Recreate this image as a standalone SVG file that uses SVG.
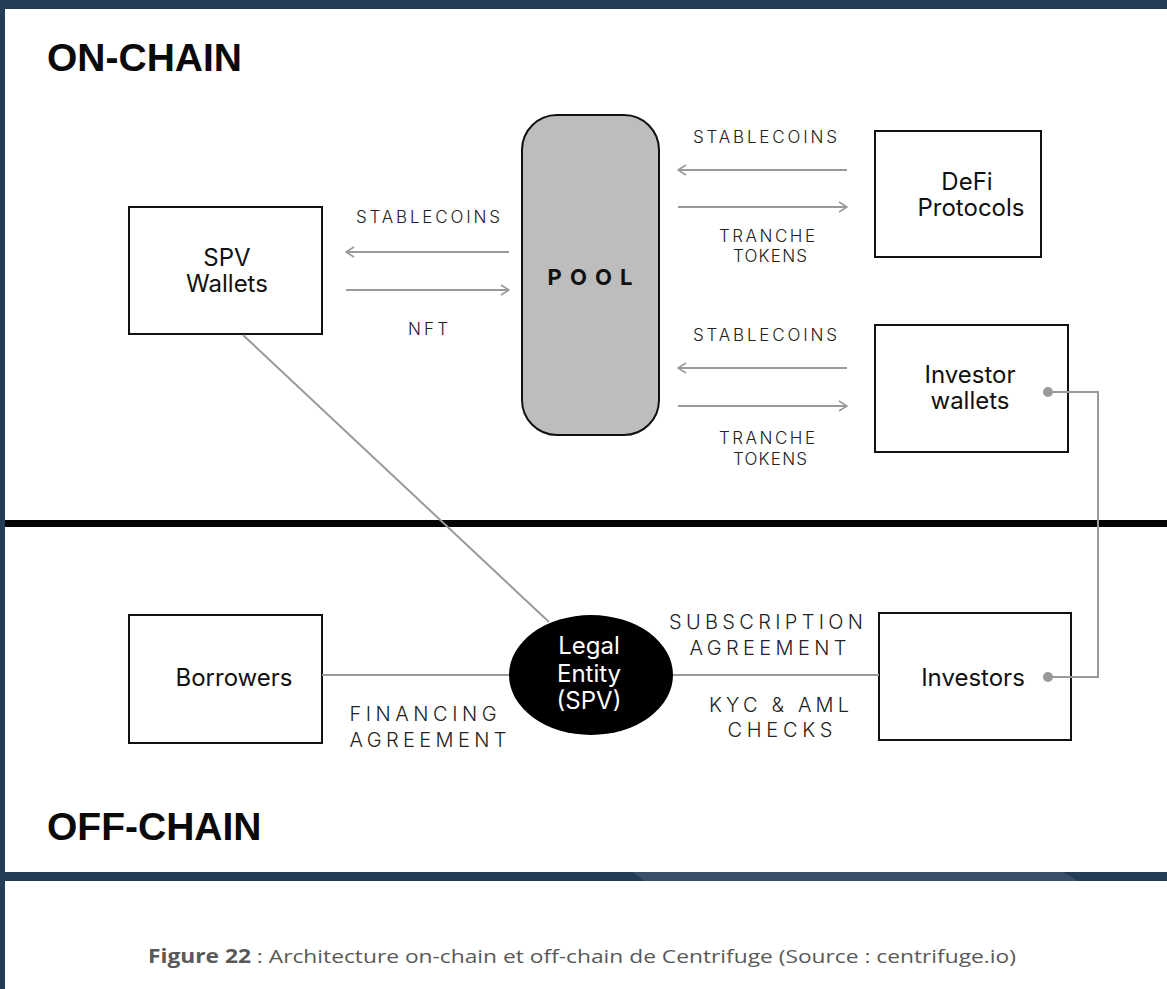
<svg xmlns="http://www.w3.org/2000/svg" width="1167" height="989" viewBox="0 0 1167 989">
<defs>
<style>
.bg{fill:#ffffff}
.band{fill:#223d55}
.box{fill:#ffffff;stroke:#111111;stroke-width:2}
.node{font-family:Inter,"Liberation Sans",sans-serif;font-size:24px;fill:#111111;text-anchor:middle}
.lbl{font-family:Inter,"Liberation Sans",sans-serif;font-weight:300;font-size:17px;fill:#222222;text-anchor:middle}
.lbl2{font-family:Inter,"Liberation Sans",sans-serif;font-weight:300;font-size:20px;fill:#222222;text-anchor:middle}
.head{font-family:"Liberation Sans",Arial,sans-serif;font-weight:bold;font-size:39px;fill:#0a0a0a}
.con{fill:none;stroke:#9a9a9a;stroke-width:2}
.arr{fill:none;stroke:#9a9a9a;stroke-width:2}
.cap{font-family:"Open Sans","Liberation Sans",sans-serif;font-size:19px;fill:#595959}
</style>
<marker id="ah" viewBox="0 0 10 12" refX="9" refY="6" markerWidth="10" markerHeight="12" markerUnits="userSpaceOnUse" orient="auto-start-reverse">
<path d="M1,1 L9,6 L1,11" fill="none" stroke="#9a9a9a" stroke-width="1.6"/>
</marker>
</defs>
<rect class="bg" x="0" y="0" width="1167" height="989"/>
<rect class="band" x="0" y="0" width="1167" height="9"/>
<rect class="band" x="0" y="0" width="5" height="989"/>
<rect class="band" x="0" y="872" width="1167" height="9"/>
<path d="M633,872 L1063,872 L1078,881 L644,881 Z" fill="#3b5068"/>
<rect x="5" y="520" width="1162" height="7" fill="#050505"/>
<text class="head" x="47" y="71">ON-CHAIN</text>
<text class="head" x="47" y="840">OFF-CHAIN</text>

<g id="spv-wallets">
<rect class="box" x="129" y="207" width="193" height="127"/>
<text class="node" x="227" y="266">SPV</text>
<text class="node" x="227" y="292">Wallets</text>
</g>
<g id="pool">
<rect x="522" y="115" width="137" height="320" rx="35" ry="35" fill="#bdbdbd" stroke="#111111" stroke-width="2"/>
<text x="590" y="285" font-family="Inter,'Liberation Sans',sans-serif" font-weight="bold" font-size="22" fill="#111111" text-anchor="middle" textLength="85" lengthAdjust="spacing">POOL</text>
</g>
<g id="defi-protocols">
<rect class="box" x="875" y="131" width="166" height="126"/>
<text class="node" x="967" y="190">DeFi</text>
<text class="node" x="971" y="216">Protocols</text>
</g>
<g id="investor-wallets">
<rect class="box" x="875" y="325" width="193" height="127"/>
<text class="node" x="970" y="383">Investor</text>
<text class="node" x="970" y="409">wallets</text>
</g>
<g id="borrowers">
<rect class="box" x="129" y="615" width="193" height="128"/>
<text class="node" x="234" y="686">Borrowers</text>
</g>
<g id="legal-entity">
<ellipse cx="591" cy="675" rx="82" ry="60" fill="#000000"/>
<text class="node" x="589" y="654" style="fill:#ffffff">Legal</text>
<text class="node" x="589" y="682" style="fill:#ffffff">Entity</text>
<text class="node" x="589" y="709" style="fill:#ffffff">(SPV)</text>
</g>
<g id="investors">
<rect class="box" x="879" y="613" width="192" height="127"/>
<text class="node" x="973" y="686">Investors</text>
</g>

<g id="connectors">
<line class="arr" x1="509" y1="252" x2="346" y2="252" marker-end="url(#ah)"/>
<line class="arr" x1="346" y1="290" x2="509" y2="290" marker-end="url(#ah)"/>
<line class="arr" x1="847" y1="170" x2="678" y2="170" marker-end="url(#ah)"/>
<line class="arr" x1="678" y1="207" x2="847" y2="207" marker-end="url(#ah)"/>
<line class="arr" x1="847" y1="368" x2="678" y2="368" marker-end="url(#ah)"/>
<line class="arr" x1="678" y1="406" x2="847" y2="406" marker-end="url(#ah)"/>
<line class="con" x1="243" y1="335" x2="549" y2="622"/>
<line class="con" x1="322" y1="675" x2="509" y2="675"/>
<line class="con" x1="673" y1="675" x2="879" y2="675"/>
<polyline class="con" points="1048,392 1098,392 1098,677 1048,677"/>
<circle cx="1048" cy="392" r="5" fill="#9a9a9a"/>
<circle cx="1048" cy="677" r="5" fill="#9a9a9a"/>
<text class="lbl" x="428" y="223" textLength="144" lengthAdjust="spacing">STABLECOINS</text>
<text class="lbl" x="428" y="335" textLength="40" lengthAdjust="spacing">NFT</text>
<text class="lbl" x="765" y="143" textLength="144" lengthAdjust="spacing">STABLECOINS</text>
<text class="lbl" x="767" y="242" textLength="96" lengthAdjust="spacing">TRANCHE</text>
<text class="lbl" x="770" y="262" textLength="74" lengthAdjust="spacing">TOKENS</text>
<text class="lbl" x="765" y="341" textLength="144" lengthAdjust="spacing">STABLECOINS</text>
<text class="lbl" x="767" y="444" textLength="96" lengthAdjust="spacing">TRANCHE</text>
<text class="lbl" x="770" y="465" textLength="74" lengthAdjust="spacing">TOKENS</text>
<text class="lbl2" x="766" y="629" textLength="194" lengthAdjust="spacing">SUBSCRIPTION</text>
<text class="lbl2" x="768" y="655" textLength="157" lengthAdjust="spacing">AGREEMENT</text>
<text class="lbl2" x="779" y="712" textLength="140" lengthAdjust="spacing">KYC &amp; AML</text>
<text class="lbl2" x="780" y="737" textLength="105" lengthAdjust="spacing">CHECKS</text>
<text class="lbl2" x="423" y="721" textLength="147" lengthAdjust="spacing">FINANCING</text>
<text class="lbl2" x="428" y="747" textLength="157" lengthAdjust="spacing">AGREEMENT</text>
</g>

<g id="caption">
<text class="cap" x="148" y="963" textLength="868" lengthAdjust="spacingAndGlyphs"><tspan font-weight="bold">Figure 22</tspan> : Architecture on-chain et off-chain de Centrifuge (Source : centrifuge.io)</text>
</g>
</svg>
